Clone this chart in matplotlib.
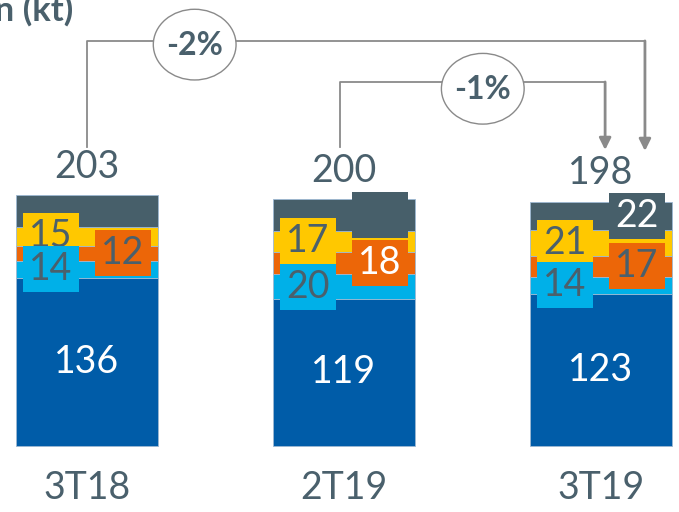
import matplotlib
matplotlib.use("Agg")
import matplotlib.pyplot as plt
from matplotlib.patches import Rectangle, Ellipse

plt.rcParams['font.family'] = ['Lato', 'DejaVu Sans']

# data
categories = ["3T18", "2T19", "3T19"]
blue = [136, 119, 123]
light_blue = [14, 20, 14]
orange = [12, 18, 17]
yellow = [15, 17, 21]
gray = [26, 26, 22]
totals = [203, 200, 198]
changes = ["-2%", "-1%"]

BLUE, LBLUE, ORANGE, YELLOW, GRAY = "#005ca8", "#00b0e8", "#ec6608", "#ffc800", "#475f6a"
TXT = "#4a606c"
WHITE = "white"

fig = plt.figure(figsize=(6.79, 5.12), dpi=100)
ax = fig.add_axes([0, 0, 1, 1])
ax.set_xlim(-0.3385, 2.3035)
ax.set_ylim(-53.4, 360.8)
ax.axis("off")

x = list(range(len(categories)))
bw = 0.553
series = [
    (blue, BLUE),
    (light_blue, LBLUE),
    (orange, ORANGE),
    (yellow, YELLOW),
    (gray, GRAY),
]
bottoms = [0] * len(x)
seg_centers = []
for vals, col in series:
    ax.bar(x, vals, bw, bottom=bottoms, color=col, edgecolor="#9db8d2",
           linewidth=0.6, zorder=2)
    seg_centers.append([b + v / 2 for b, v in zip(bottoms, vals)])
    bottoms = [b + v for b, v in zip(bottoms, vals)]

# label boxes: (series index, x offset, text color per bar)
box_w, box_h, off = 0.218, 37.2, 0.14
box_specs = [
    (3, -off, [TXT, TXT, TXT]),     # yellow
    (1, -off, [TXT, TXT, TXT]),     # light blue
    (2, off, [TXT, WHITE, TXT]),    # orange
    (4, off, [None, GRAY, WHITE]),  # gray
]
fs = 27
for i in x:
    ax.text(i, seg_centers[0][i], f"{blue[i]}", ha="center", va="center",
            color="white", fontsize=fs, zorder=5)
    for si, dx, tcols in box_specs:
        if tcols[i] is None:
            continue
        vals, col = series[si]
        cx, cy = i + dx, seg_centers[si][i]
        ax.add_patch(Rectangle((cx - box_w / 2, cy - box_h / 2), box_w, box_h,
                               facecolor=col, edgecolor="none", zorder=4))
        ax.text(cx, cy, f"{vals[i]}", ha="center", va="center", color=tcols[i],
                fontsize=fs, zorder=4)
    ax.text(i, totals[i] + 8, f"{totals[i]}", ha="center", va="bottom",
            color=TXT, fontsize=fs)
    ax.text(i, -34, categories[i], ha="center", va="center", color=TXT,
            fontsize=fs)

# change arrows
LC = "#8a8a8a"
arrows = [
    (0, 2.171, 327.7, 238.7, (0.419, 324.7), changes[0]),
    (0.984, 2.016, 294.5, 239.5, (1.540, 289.0), changes[1]),
]
for x0, x1, ytop, ytip, (ex, ey), label in arrows:
    ax.plot([x0, x0, x1], [241.9, ytop, ytop], color=LC, lw=1.3, zorder=1)
    ax.annotate("", xy=(x1, ytip), xytext=(x1, ytop),
                arrowprops=dict(arrowstyle="-|>,head_width=0.35,head_length=0.7",
                                color=LC, lw=2, shrinkA=0, shrinkB=0))
    ax.add_patch(Ellipse((ex, ey), 0.322, 57.2, facecolor="white",
                         edgecolor=LC, lw=1.0, zorder=3))
    ax.text(ex, ey - 1, label, ha="center", va="center", color=TXT,
            fontsize=23, fontweight="bold", zorder=4)

fig.text(73 / 679, 1 - 21 / 512, "Producción (kt)", ha="right", va="baseline",
         color=TXT, fontsize=25, fontweight="bold")

fig.savefig("out.png", dpi=100)
